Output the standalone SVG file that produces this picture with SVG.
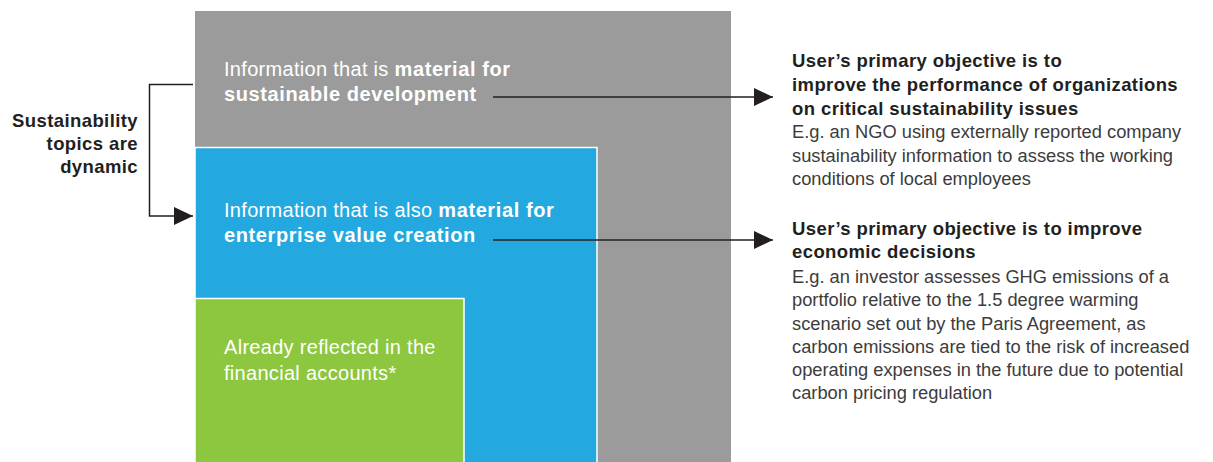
<svg xmlns="http://www.w3.org/2000/svg" width="1213" height="462" viewBox="0 0 1213 462">
<defs>
<style>
.box-text{font-family:"Liberation Sans",Arial,sans-serif;font-size:20px;letter-spacing:0.3px;fill:#ffffff}
.b{font-weight:bold;letter-spacing:0.6px}
.side{font-family:"Liberation Sans",Arial,sans-serif;font-size:18.5px;letter-spacing:0.4px;font-weight:bold;fill:#231f20}
.head{font-family:"Liberation Sans",Arial,sans-serif;font-size:18.5px;letter-spacing:0.4px;font-weight:bold;fill:#231f20}
.body{font-family:"Liberation Sans",Arial,sans-serif;font-size:18.3px;fill:#3c3c3c}
.conn{stroke:#231f20;stroke-width:1.5;fill:none}
</style>
<marker id="arr" markerWidth="19" markerHeight="18" refX="19" refY="9" orient="auto" markerUnits="userSpaceOnUse">
<path d="M0,0 L19,9 L0,18 Z" fill="#231f20"/>
</marker>
</defs>
<rect width="1213" height="462" fill="#ffffff"/>
<g id="node-sustainable">
<rect x="195" y="11" width="536" height="451" fill="#9b9b9b"/>
<text class="box-text" x="224" y="76">Information that is <tspan class="b">material for</tspan></text>
<text class="box-text b" x="224" y="101">sustainable development</text>
</g>
<g id="node-enterprise">
<rect x="195" y="147.5" width="402" height="320" fill="#24a8e0" stroke="#ffffff" stroke-width="1.5"/>
<text class="box-text" x="224" y="217">Information that is also <tspan class="b">material for</tspan></text>
<text class="box-text b" x="224" y="242">enterprise value creation</text>
</g>
<g id="node-financial">
<rect x="195" y="298.5" width="269" height="170" fill="#8dc63f" stroke="#ffffff" stroke-width="1.5"/>
<text class="box-text" x="224" y="354">Already reflected in the</text>
<text class="box-text" x="224" y="380">financial accounts*</text>
</g>
<g id="node-dynamic">
<text class="side" text-anchor="end" x="138" y="127">Sustainability</text>
<text class="side" text-anchor="end" x="138" y="150">topics are</text>
<text class="side" text-anchor="end" x="138" y="173">dynamic</text>
</g>
<g id="node-objective1">
<text class="head" x="792" y="67">User’s primary objective is to</text>
<text class="head" x="792" y="91">improve the performance of organizations</text>
<text class="head" x="792" y="115">on critical sustainability issues</text>
<text class="body" x="792" y="138">E.g. an NGO using externally reported company</text>
<text class="body" x="792" y="162">sustainability information to assess the working</text>
<text class="body" x="792" y="185">conditions of local employees</text>
</g>
<g id="node-objective2">
<text class="head" x="792" y="235">User’s primary objective is to improve</text>
<text class="head" x="792" y="258">economic decisions</text>
<text class="body" x="792" y="283">E.g. an investor assesses GHG emissions of a</text>
<text class="body" x="792" y="306">portfolio relative to the 1.5 degree warming</text>
<text class="body" x="792" y="330">scenario set out by the Paris Agreement, as</text>
<text class="body" x="792" y="353">carbon emissions are tied to the risk of increased</text>
<text class="body" x="792" y="376">operating expenses in the future due to potential</text>
<text class="body" x="792" y="399">carbon pricing regulation</text>
</g>
<g id="connectors">
<path class="conn" d="M193,84.5 H149.5 V216 H193" marker-end="url(#arr)"/>
<path class="conn" d="M493,97 H773" marker-end="url(#arr)"/>
<path class="conn" d="M493,240 H773" marker-end="url(#arr)"/>
</g>
</svg>
